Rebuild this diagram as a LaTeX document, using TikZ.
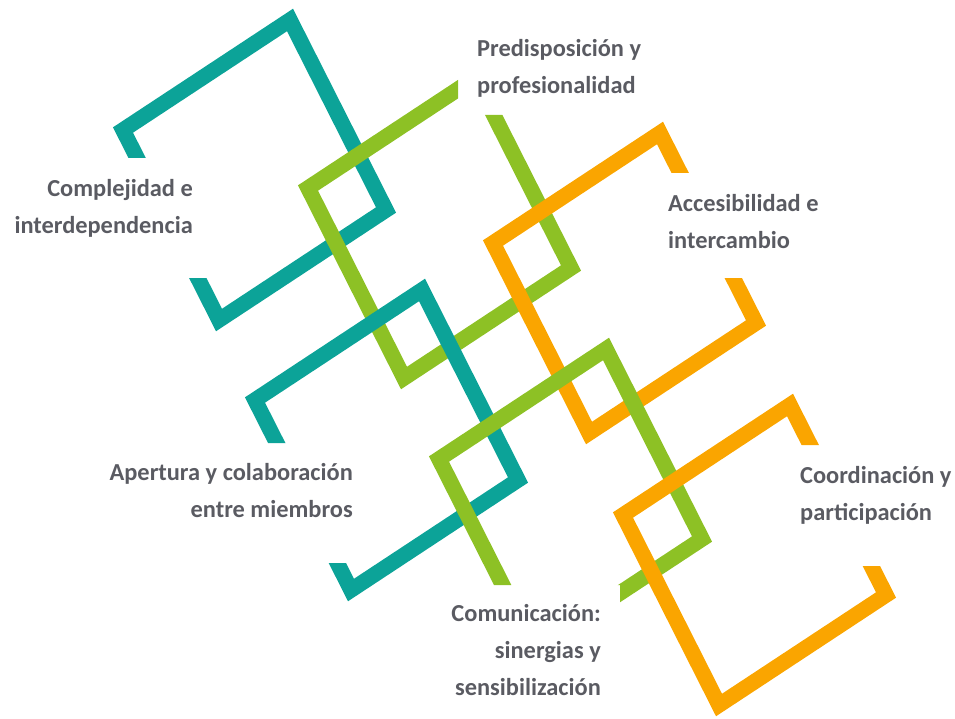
\documentclass[tikz,border=0pt]{standalone}
\usepackage{fontspec}
\setmainfont{Carlito}
\definecolor{cteal}{RGB}{12,163,152}
\definecolor{cgreen}{RGB}{141,193,37}
\definecolor{corange}{RGB}{250,165,0}
\definecolor{ctext}{RGB}{90,91,98}
\begin{document}
\begin{tikzpicture}[x=1pt,y=-1pt,
  band/.style={line width=15.5pt, line join=miter, miter limit=10},
  lbl/.style={font=\bfseries\fontsize{24.4}{37}\selectfont, text=ctext, inner sep=0pt}]
\useasboundingbox (0,0) rectangle (955,719);

% teal 1
\begin{scope}
\clip (-20,-20) -- (975,-20) -- (975,739) -- (-20,739) -- (-20,278) -- (250,278) -- (250,158) -- (-20,158) -- cycle;
\draw[band, cteal] (123,130) -- ++(167,-110) -- ++(96,190) -- ++(-167,110) -- cycle;
\end{scope}
% green 2
\begin{scope}
\clip (-20,-20) -- (458,-20) -- (458,115) -- (975,115) -- (975,739) -- (-20,739) -- cycle;
\draw[band, cgreen] (308,188) -- ++(167,-110) -- ++(96,190) -- ++(-167,110) -- cycle;
\end{scope}
% orange 3
\begin{scope}
\clip (-20,-20) -- (975,-20) -- (975,173) -- (630,173) -- (630,278) -- (975,278) -- (975,739) -- (-20,739) -- cycle;
\draw[band, corange] (493,243) -- ++(167,-110) -- ++(96,190) -- ++(-167,110) -- cycle;
\end{scope}
% teal 4
\begin{scope}
\clip (-20,-20) -- (975,-20) -- (975,739) -- (-20,739) -- (-20,563) -- (365,563) -- (365,443) -- (-20,443) -- cycle;
\draw[band, cteal] (255,400) -- ++(167,-110) -- ++(96,190) -- ++(-167,110) -- cycle;
\end{scope}
% green 5
\begin{scope}
\clip (-20,-20) -- (975,-20) -- (975,739) -- (620,739) -- (620,585) -- (-20,585) -- cycle;
\draw[band, cgreen] (439,459) -- ++(167,-110) -- ++(96,190) -- ++(-167,110) -- cycle;
\end{scope}
% orange 6
\begin{scope}
\clip (-20,-20) -- (975,-20) -- (975,445) -- (760,445) -- (760,566) -- (975,566) -- (975,739) -- (-20,739) -- cycle;
\draw[band, corange] (623,515) -- ++(167,-110) -- ++(96,190) -- ++(-167,110) -- cycle;
\end{scope}

\node[lbl, anchor=north east, align=right] (t1) at (193,178) {\rule{0pt}{18.5pt}Complejidad e\\interdependencia};
\node[lbl, anchor=north west, align=left] (t2) at (477,38) {\rule{0pt}{18.5pt}Predisposición y\\profesionalidad};
\node[lbl, anchor=north west, align=left] (t3) at (668,193) {\rule{0pt}{18.5pt}Accesibilidad e\\intercambio};
\node[lbl, anchor=north east, align=right] (t4) at (353,462) {\rule{0pt}{18.5pt}Apertura y colaboración\\entre miembros};
\node[lbl, anchor=north west, align=left] (t5) at (800,465) {\rule{0pt}{18.5pt}Coordinación y\\participación};
\node[lbl, anchor=north east, align=right] (t6) at (601,603) {\rule{0pt}{18.5pt}Comunicación:\\sinergias y\\sensibilización};
\end{tikzpicture}
\end{document}
